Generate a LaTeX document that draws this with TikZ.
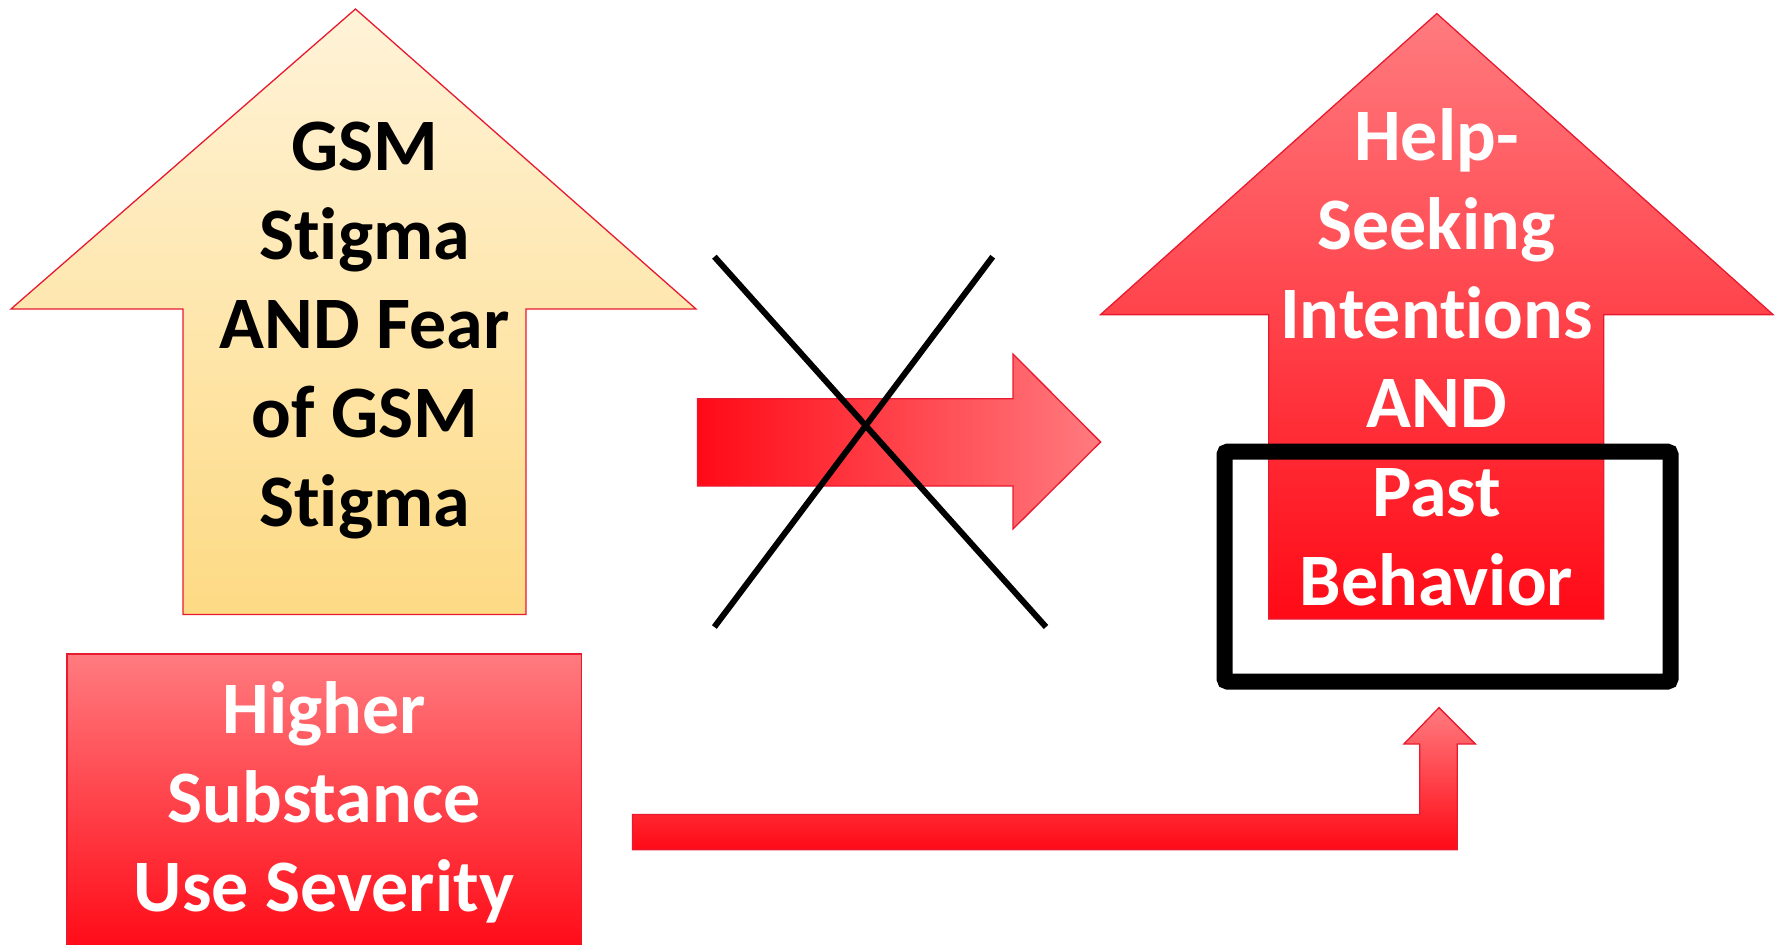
\documentclass[tikz,border=0pt]{standalone}
\usepackage{fontspec}
\setmainfont{Carlito}[Ligatures=CommonOff]
\definecolor{pinkA}{HTML}{FF7B7F}
\definecolor{redA}{HTML}{FF0A16}
\definecolor{creamA}{HTML}{FFF3D8}
\definecolor{creamB}{HTML}{FDDA84}
\definecolor{edgeR}{HTML}{E81A30}
\tikzset{
  blockarrow/.style={draw=edgeR, line width=1.3pt, line join=miter},
  lbl/.style={align=center, font=\bfseries\fontsize{74}{89}\selectfont, inner sep=0pt},
  cross/.style={line width=6pt, black},
}
\begin{document}
\begin{tikzpicture}[x=1pt,y=-1pt]
\useasboundingbox (0,0) rectangle (1781,945);
% left up arrow
\shade[blockarrow, top color=creamA, bottom color=creamB]
  (355.5,9) -- (696,309) -- (526,309) -- (526,614.5) -- (183,614.5) -- (183,309) -- (11,309) -- cycle;
\node[lbl, text=black] (gsm) at (364.6,330.4) {GSM\\Stigma\\AND Fear\\of GSM\\Stigma};
% middle right arrow
\shade[blockarrow, left color=redA, right color=pinkA]
  (697.4,398.7) -- (1013,398.7) -- (1013,354) -- (1100.6,442) -- (1013,529) -- (1013,486) -- (697.4,486) -- cycle;
% cross
\coordinate (xa) at (714.4,256.7);
\coordinate (xb) at (1046,627);
\coordinate (xc) at (714.4,627);
\coordinate (xd) at (992.7,256.7);
\draw[cross] (xa) -- (xb);
\draw[cross] (xc) -- (xd);
% right up arrow
\shade[blockarrow, top color=pinkA, middle color=pinkA!70!redA, bottom color=redA]
  (1436.8,13.6) -- (1773,314.6) -- (1603.8,314.6) -- (1603.8,619) -- (1268.7,619) -- (1268.7,314.6) -- (1100.6,314.6) -- cycle;
\node[lbl, text=white] (help) at (1436.5,357.8) {Help-\\Seeking\\Intentions\\AND\\Past\\Behavior};
% black frame
\draw[line width=16pt, rounded corners=3pt] (1224.5,451.7) rectangle (1670.5,681.5);
% bottom-left box
\shade[blockarrow, top color=pinkA, bottom color=redA] (67,654) rectangle (581.5,950);
\node[lbl, text=white] (sub) at (324,802) {Higher\\Substance\\Use Severity};
% elbow arrow
\shade[blockarrow, top color=pinkA, bottom color=redA]
  (632.6,814.4) -- (1419.8,814.4) -- (1419.8,744) -- (1403.9,744) -- (1439,707.6) -- (1475.4,744) -- (1457.2,744) -- (1457.2,849.6) -- (632.6,849.6) -- cycle;
\end{tikzpicture}
\end{document}
